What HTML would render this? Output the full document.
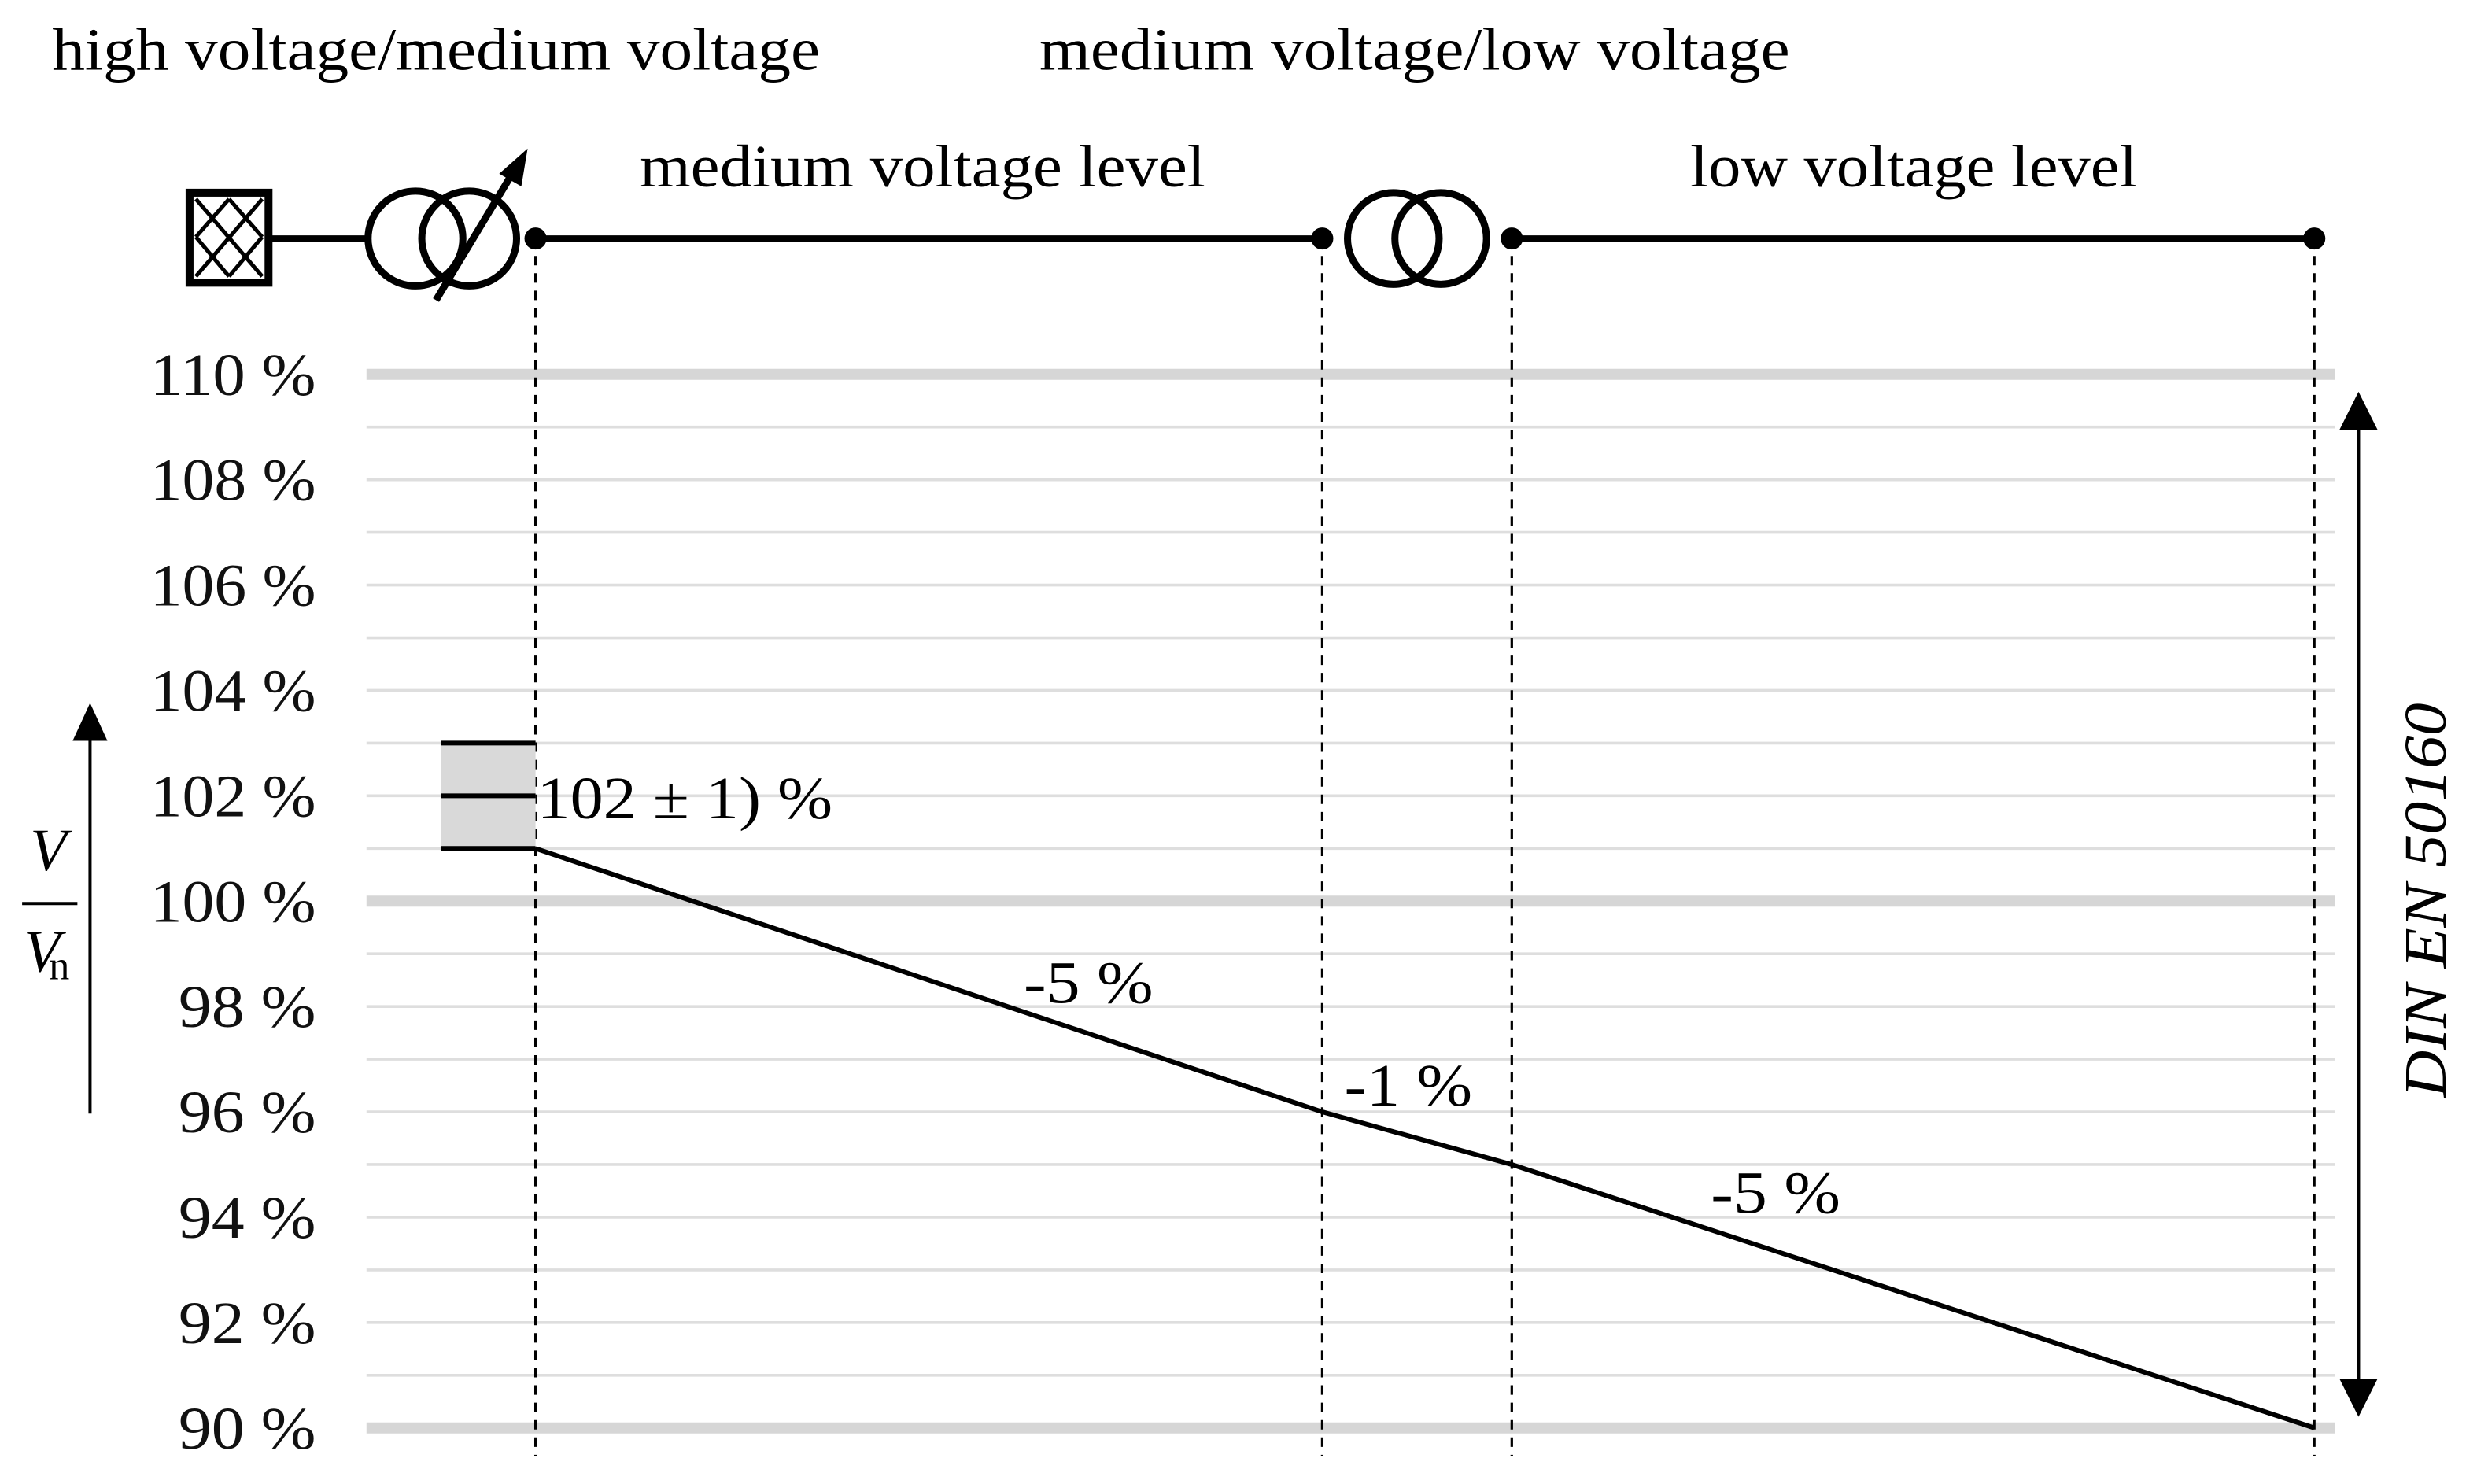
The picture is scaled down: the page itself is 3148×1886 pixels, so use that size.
<!DOCTYPE html>
<html><head><meta charset="utf-8"><style>
html,body{margin:0;padding:0;background:#fff;}
svg{display:block;font-family:"Liberation Serif",serif;}
</style></head><body>
<svg id="chart" width="3148" height="1886" viewBox="0 0 1568 939.5" preserveAspectRatio="none" xmlns="http://www.w3.org/2000/svg">
<g id="grid"></g>
<g id="ticks" font-size="38" fill="#111"></g>
<text x="33" y="44" font-size="38" textLength="486" lengthAdjust="spacingAndGlyphs">high voltage/medium voltage</text>
<text x="658" y="44" font-size="38" textLength="475" lengthAdjust="spacingAndGlyphs">medium voltage/low voltage</text>
<text x="405" y="118" font-size="38" textLength="358" lengthAdjust="spacingAndGlyphs">medium voltage level</text>
<text x="1070" y="118" font-size="38" textLength="283" lengthAdjust="spacingAndGlyphs">low voltage level</text>
<g stroke="#000" fill="none">
<rect x="120" y="122" width="50" height="57" stroke-width="5"/>
<g stroke-width="2.5"><line x1="124" y1="126" x2="166" y2="175"/><line x1="124" y1="150" x2="145" y2="175"/><line x1="145" y1="126" x2="166" y2="150"/><line x1="166" y1="126" x2="124" y2="175"/><line x1="145" y1="126" x2="124" y2="150"/><line x1="166" y1="150" x2="145" y2="175"/></g>
<line x1="170" y1="151" x2="232" y2="151" stroke-width="4"/>
</g>
<g stroke="#000" fill="none" stroke-width="4.5">
<circle cx="263" cy="151" r="30"/><circle cx="297" cy="151" r="30"/>
<line x1="276" y1="190" x2="323" y2="112"/>
<polygon points="334,94 316,110 330,118" fill="#000" stroke="none"/>
</g>
<g stroke="#000" fill="none" stroke-width="4.5">
<circle cx="882" cy="151" r="29"/><circle cx="912" cy="151" r="29"/>
</g>
<g stroke="#000" stroke-width="4">
<line x1="339" y1="151" x2="837" y2="151"/><line x1="957" y1="151" x2="1465" y2="151"/>
</g>
<g id="nodes"></g>
<g id="band"></g>
<g id="series"></g>
<text x="340" y="518" font-size="38" textLength="187" lengthAdjust="spacingAndGlyphs">102 ± 1) %</text>
<text x="648" y="635" font-size="38" textLength="82" lengthAdjust="spacingAndGlyphs">-5 %</text>
<text x="851" y="700" font-size="38" textLength="81" lengthAdjust="spacingAndGlyphs">-1 %</text>
<text x="1083" y="768" font-size="38" textLength="82" lengthAdjust="spacingAndGlyphs">-5 %</text>
<g>
<line x1="57" y1="465" x2="57" y2="705" stroke="#000" stroke-width="2"/>
<polygon points="57,445 46,469 68,469" fill="#000"/>
</g>
<g font-style="italic" font-size="38">
<text x="19" y="551">V</text>
<line x1="14" y1="572" x2="49" y2="572" stroke="#000" stroke-width="2"/>
<text x="15" y="615">V</text><text x="31" y="620" font-style="normal" font-size="26">n</text>
</g>
<g>
<line x1="1493" y1="270" x2="1493" y2="875" stroke="#000" stroke-width="2"/>
<polygon points="1493,248 1481,272 1505,272" fill="#000"/>
<polygon points="1493,897 1481,873 1505,873" fill="#000"/>
<text transform="translate(1548,570) rotate(-90)" text-anchor="middle" font-style="italic" font-size="38" textLength="250" lengthAdjust="spacingAndGlyphs">DIN EN 50160</text>
</g>
<script>
const ticks=[110,108,106,104,102,100,98,96,94,92,90];
const nodeNames=['mv-busbar','mv-end','lv-busbar','lv-end'];
const nodeX=[0,1,2,3];
const voltages=[101,96,95,90];
const bandLow=101, bandMid=102, bandHigh=103;
const NS='http://www.w3.org/2000/svg';
const y=v=>237+(110-v)*33.35;
const xs=[339,837,957,1465];
const x=i=>xs[i];
function mk(tag,attrs,parent){const e=document.createElementNS(NS,tag);for(const k in attrs)e.setAttribute(k,attrs[k]);parent.appendChild(e);return e;}
const grid=document.getElementById('grid');
for(let v=90;v<=110;v++){
  const major=v%10===0;
  const l=mk('line',{x1:232,x2:1478,y1:y(v),y2:y(v),stroke:major?'#d6d6d6':'#dedede','stroke-width':major?7:1.8},grid);
  
  
}
const tg=document.getElementById('ticks');
ticks.forEach(t=>{const s=t+' %';const e=mk('text',{x:200,y:y(t)+13,'text-anchor':'end',textLength:t>=100?105:87,lengthAdjust:'spacingAndGlyphs'},tg);e.textContent=s;
  
  });
const nodes=document.getElementById('nodes');
nodeX.forEach((n,i)=>{
  const d=mk('line',{x1:x(n),x2:x(n),y1:151,y2:922,stroke:'#000','stroke-width':1.6,'stroke-dasharray':'6,5'},nodes);
  
  
  const c=mk('circle',{cx:x(n),cy:151,r:7,fill:'#000'},nodes);
  
  
});
const band=document.getElementById('band');
const r=mk('rect',{x:279,y:y(bandHigh),width:x(0)-279,height:y(bandLow)-y(bandHigh),fill:'#d9d9d9'},band);


[bandHigh,bandMid,bandLow].forEach(v=>{const l=mk('line',{x1:279,x2:x(0),y1:y(v),y2:y(v),stroke:'#000','stroke-width':3},band);
  
  });
const s=document.getElementById('series');
const p=mk('polyline',{points:voltages.map((v,i)=>x(nodeX[i])+','+y(v)).join(' '),fill:'none',stroke:'#000','stroke-width':3},s);


</script>
</svg>
</body></html>
